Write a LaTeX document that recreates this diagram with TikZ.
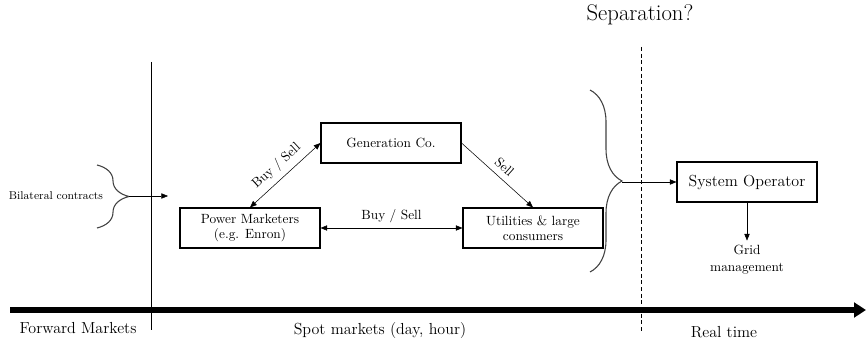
\documentclass[tikz,border=0pt]{standalone}
\usetikzlibrary{arrows.meta,decorations.pathreplacing}
\tikzset{
  mbox/.style={draw, thick, minimum width=105pt, minimum height=30pt, align=center, font=\fontsize{10}{11}\selectfont},
  lbl/.style={font=\fontsize{10}{11}\selectfont},
  tip/.style={-{Triangle[length=5pt,width=4pt]}},
  twotip/.style={{Triangle[length=5pt,width=4pt]}-{Triangle[length=5pt,width=4pt]}},
  bigbrace/.style={decorate, decoration={brace, amplitude=24pt}, thick, draw=black!75}
}
\begin{document}
\begin{tikzpicture}[x=0.75pt,y=-0.75pt]
\useasboundingbox (0,0) rectangle (866,342);
% time axis and dividers
\draw[line width=5pt, -{Triangle[length=9pt,width=11pt]}] (10,310) -- (866,310);
\draw (151,62) -- (151,330);
\draw[dashed, dash pattern=on 3pt off 2pt] (641,47) -- (641,333);
\node[font=\fontsize{12}{14}\selectfont] (fwd) at (78,328) {Forward Markets};
\node[font=\fontsize{12}{14}\selectfont] (spot) at (380,331) {Spot markets (day, hour)};
\node[font=\fontsize{12}{14}\selectfont] (real) at (724,332) {Real time};
\node[font=\fontsize{17}{19}\selectfont] (sep) at (640,15) {Separation?};
% forward side
\node[font=\fontsize{8.5}{10}\selectfont] (bilat) at (56,196) {Bilateral contracts};
\draw[bigbrace] (97,165) -- (97,228);
\coordinate (bltip) at (129,196);
\coordinate (spotin) at (168,196);
\draw[tip] (bltip) -- (spotin);
% spot market players
\node[mbox] (gen) at (391,143) {Generation Co.};
\node[mbox] (pm) at (250,228) {Power Marketers\\(e.g. Enron)};
\node[mbox] (util) at (533,228) {Utilities \& large\\consumers};
\draw[twotip] (pm.north) -- node[lbl, sloped, above=1pt] {Buy / Sell} (gen.west);
\draw[tip] (gen.east) -- node[lbl, sloped, above=1pt] {Sell} (util.north);
\draw[twotip] (pm.east) -- node[lbl, above] {Buy / Sell} (util.west);
% real time
\draw[bigbrace] (590,90) -- (590,272);
\coordinate (brtip) at (622,182);
\node[mbox, font=\fontsize{12}{14}\selectfont] (so) at (747,182) {System Operator};
\draw[tip] (brtip) -- (so.west);
\node[font=\fontsize{10}{13}\selectfont, align=center] (grid) at (747,260) {Grid\\management};
\draw[tip] (so.south) -- (grid.north);
\end{tikzpicture}
\end{document}
